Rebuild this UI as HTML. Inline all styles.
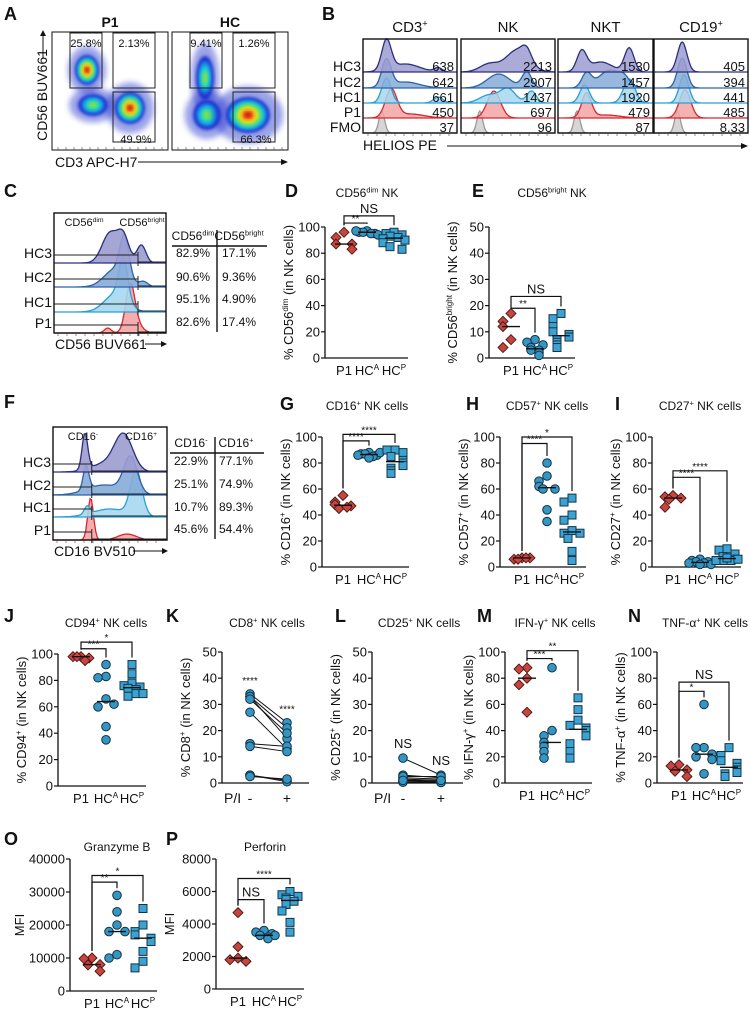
<!DOCTYPE html>
<html><head><meta charset="utf-8"><style>
body{margin:0;background:#fff}
svg{display:block;font-family:"Liberation Sans",Arial,sans-serif}
</style></head><body>
<svg id="fig" width="750" height="1012" viewBox="0 0 750 1012" xmlns="http://www.w3.org/2000/svg">
<defs>
<filter id="blur3"><feGaussianBlur stdDeviation="3"/></filter>
<filter id="blur2"><feGaussianBlur stdDeviation="1.6"/></filter>
</defs>
<g id="root"></g>
</svg>
<script>
// ---------- DATA ----------
const dotCats=["P1","HC^A","HC^P"];
const dP1=[96,92,87,87,83], dHCA=[97,96,95,96,95,97,94], dHCP=[96,95,94,93,92,91,90,88,85,83];
const eP1=[17,14,12,7,4], eHCA=[7,6,5,4,3,3,2,1], eHCP=[17,15,12,10,9,8,7,6,5,4];
const gP1=[55,50,48,47,45,46], gHCA=[88,87,86,87,85,86,88,84], gHCP=[90,90,88,85,82,80,78,76,74,72];
const hP1=[7,6,7,6,7], hHCA=[80,70,66,62,60,60,44,35], hHCP=[53,50,40,36,28,26,26,22,12,5];
const iP1=[55,54,53,52,46], iHCA=[6,5,4,4,3,3,2,2], iHCP=[14,13,10,8,6,5,5,5,6,7];
const jP1=[98,98,97,98,95], jHCA=[92,83,82,66,60,62,45,35], jHCP=[92,85,78,76,75,74,73,70,68,70];
const kPre=[34,33,33,32,27,15,14,3,3,2.5], kPost=[23,21,17,19,13,14,12,1,0.5,1.5];
const lPre=[9.5,3,2,1.5,1,0.5,0.5,0.3,2.5,1], lPost=[3,2,1.5,1,0.5,0.3,0.5,0.2,2.5,1];
const mP1=[88,87,80,75,54], mHCA=[88,40,36,31,28,24,19], mHCP=[65,56,48,44,42,40,36,30,24,19];
const nP1=[14,13,10,9,5], nHCA=[60,27,27,22,20,18,7], nHCP=[27,21,17,15,12,10,8,7,5];
const oP1=[10000,9800,8000,7900,6000], oHCA=[29000,24000,20000,18000,18000,11000,10000], oHCP=[25000,20000,18000,17000,16000,15000,12000,9000,7000];
const pP1=[4700,2600,1900,1800,1700], pHCA=[3600,3500,3400,3300,3200,3100,3300], pHCP=[6000,5800,5700,5600,5500,5400,5200,4800,4100,3500];
const helRows=["HC3","HC2","HC1","P1","FMO"];
const helTitles=["CD3^+","NK","NKT","CD19^+"];
const helMFI=[["638","642","661","450","37"],["2213","2907","1437","697","96"],["1530","1457","1920","479","87"],["405","394","441","485","8.33"]];
const cRows=["HC3","HC2","HC1","P1"];
const cDim=["82.9%","90.6%","95.1%","82.6%"], cBright=["17.1%","9.36%","4.90%","17.4%"];
const fNeg=["22.9%","25.1%","10.7%","45.6%"], fPos=["77.1%","74.9%","89.3%","54.4%"];
const aGatesP1=["25.8%","2.13%","49.9%"], aGatesHC=["9.41%","1.26%","66.3%"];

// ---------- helpers ----------
const NS="http://www.w3.org/2000/svg";
const root=document.getElementById('root');
function el(tag,attrs,parent){const e=document.createElementNS(NS,tag);for(const k in attrs)e.setAttribute(k,attrs[k]);(parent||root).appendChild(e);return e;}
function txt(x,y,s,size,anchor,parent,extra){const t=el('text',Object.assign({x:x,y:y,'font-size':size,'text-anchor':anchor||'start',fill:'#111'},extra||{}),parent);t.textContent=s;return t;}
function rich(x,y,s,size,anchor,parent,extra){
  const t=el('text',Object.assign({x:x,y:y,'font-size':size,'text-anchor':anchor||'start',fill:'#111'},extra||{}),parent);
  const parts=s.split(/(\^[^ ]+)/);
  let pend=0;
  parts.forEach(p=>{if(!p)return;const ts=el('tspan',{},t);
    if(p[0]==='^'){ts.setAttribute('font-size',size*0.62);ts.setAttribute('dy',(pend-size*0.38).toFixed(2));ts.textContent=p.slice(1);pend=size*0.38;}
    else{ts.setAttribute('font-size',size);if(pend){ts.setAttribute('dy',pend.toFixed(2));pend=0;}ts.textContent=p;}});
  return t;}
function letter(x,y,s){const t=txt(x,y,s,18,'start',root,{'font-weight':'bold'});}

// ---------- Panel A ----------
function jetBlob(g,cx,cy,rx,ry,hot){
  const cols=['#1f2fd0','#1e8fe6','#1fd6c9','#7de04a','#f2e21b','#f07f14','#d61a12'];
  const n=hot?7:4;
  for(let i=0;i<n;i++){const f=1-i/(n+0.3);el('ellipse',{cx:cx,cy:cy,rx:rx*f,ry:ry*f,fill:cols[i],filter:'url(#blur2)'},g);}
}
function scatter(x0,title,gates,blobs,name){
  const g=el('g',{});
  txt(x0+58,27,title,14,'middle',g,{'font-weight':'bold'});
  el('rect',{x:x0,y:32,width:116,height:118,fill:'#fff',stroke:'#111','stroke-width':1},g);
  blobs.forEach(b=>{el('ellipse',{cx:b[0],cy:b[1],rx:b[2]*1.6,ry:b[3]*1.6,fill:'#2233cc',opacity:0.45,filter:'url(#blur3)'},g);jetBlob(g,b[0],b[1],b[2],b[3],b[4]);});
  const gb=[[x0+18,33,32,55],[x0+61,33,42,55],[x0+61,92,42,50]];
  gb.forEach((r,i)=>{const rr=el('rect',{x:r[0],y:r[1],width:r[2],height:r[3],fill:'none',stroke:'#222','stroke-width':1},g);});
  txt(x0+34,47,gates[0],11,'middle',g);txt(x0+82,47,gates[1],11,'middle',g);txt(x0+84,143,gates[2],11,'middle',g);
  for(let i=0;i<14;i++){el('line',{x1:x0+6+i*8,y1:150,x2:x0+6+i*8,y2:147,stroke:'#444','stroke-width':0.6},g);}
}
scatter(52,"P1",aGatesP1,[[87,70,12,15,1],[93,105,15,11,0],[130,108,15,16,1]],'scatter-p1');
scatter(172,"HC",aGatesHC,[[205,78,9,22,0],[207,115,14,15,0],[248,115,22,18,1]],'scatter-hc');
(function(){const t=txt(0,0,"CD56 BUV661",14,'middle',root,{transform:'translate(47,95) rotate(-90)'});
el('line',{x1:43,y1:58,x2:43,y2:32,stroke:'#111'});el('path',{d:'M40,36 L43,30 L46,36 Z',fill:'#111'});
const t2=txt(55,167,"CD3 APC-H7",14,'start');
el('line',{x1:138,y1:162,x2:282,y2:162,stroke:'#111'});el('path',{d:'M281,159 L288,162 L281,165 Z',fill:'#111'});})();
letter(4,20,"A");

function histPath(x0,w,base,peaks){
  let d='M'+x0+','+base;
  for(let i=0;i<=80;i++){const u=i/80;let h=0;peaks.forEach(p=>{h+=p[2]*Math.exp(-Math.pow((u-p[0])/p[1],2)/2);});d+=' L'+(x0+u*w).toFixed(1)+','+(base-h).toFixed(1);}
  return d+' L'+(x0+w)+','+base+' Z';
}
const rowStroke=['#2d2d7e','#2b63a6','#2a9fd4','#d8262e','#999'];
const rowFill=['#9c9cd0','#86acd8','#a6d8f0','#f4a4a6','#cfcfcf'];

// ---------- Panel B ----------
letter(322,20,"B");
const helBoxes=[[363,94],[461,94],[558,95],[654,94]];
const helPeaks=[
 [[[0.25,0.05,30],[0.45,0.15,8],[0.8,0.04,4]],[[0.25,0.05,27],[0.45,0.15,6]],[[0.25,0.05,25],[0.8,0.05,6]],[[0.3,0.06,28],[0.5,0.15,4]],[[0.2,0.03,22]]],
 [[[0.3,0.1,8],[0.6,0.12,22],[0.7,0.05,10]],[[0.4,0.12,14],[0.7,0.05,16]],[[0.3,0.1,8],[0.5,0.08,14],[0.75,0.05,12]],[[0.35,0.07,27]],[[0.2,0.03,22]]],
 [[[0.25,0.05,20],[0.45,0.12,10],[0.75,0.05,24]],[[0.3,0.05,14],[0.55,0.12,18],[0.7,0.05,6]],[[0.28,0.05,18],[0.75,0.06,24]],[[0.3,0.05,24],[0.5,0.15,3]],[[0.2,0.03,22]]],
 [[[0.3,0.05,30]],[[0.3,0.05,30]],[[0.32,0.05,28]],[[0.33,0.06,28]],[[0.25,0.03,22]]]];
const helBase=[72,88,103,118,133];
helBoxes.forEach((b,pi)=>{
  const g=el('g',{});
  el('rect',{x:b[0],y:39,width:b[1],height:94,fill:'#fff'},g);
  for(let r=4;r>=0;r--){
    el('path',{d:histPath(b[0],b[1],helBase[r],helPeaks[pi][r]),fill:rowFill[r],stroke:rowStroke[r],'stroke-width':1.3,'fill-opacity':0.85},g);
    el('line',{x1:b[0],y1:helBase[r],x2:b[0]+b[1],y2:helBase[r],stroke:rowStroke[r],'stroke-width':1.1},g);
  }
  el('rect',{x:b[0],y:39,width:b[1],height:94,fill:'none',stroke:'#111','stroke-width':1.4},g);
  rich(b[0]+b[1]/2,32,helTitles[pi],15,'middle',g);
  helMFI[pi].forEach((v,r)=>txt(b[0]+b[1]-3,helBase[r]-1,v,13,'end',g));
  for(let i=0;i<10;i++)el('line',{x1:b[0]+5+i*9,y1:133,x2:b[0]+5+i*9,y2:136,stroke:'#444','stroke-width':0.6},g);
});
helRows.forEach((r,i)=>{const t=txt(361,helBase[i]-1,r,14,'end');});
(function(){const t=txt(363,150,"HELIOS PE",14,'start');
el('line',{x1:447,y1:146,x2:742,y2:146,stroke:'#111'});el('path',{d:'M741,143 L748,146 L741,149 Z',fill:'#111'});})();

// ---------- Panel C & F ----------
function histTable(o){
  const g=el('g',{});
  el('rect',{x:o.x0,y:o.y0,width:o.w,height:o.h,fill:'#fff'},g);
  for(let r=o.base.length-1;r>=0;r--){
    el('path',{d:histPath(o.x0,o.w,o.base[r],o.peaks[r]),fill:rowFill[r],stroke:rowStroke[r],'stroke-width':1.3,'fill-opacity':0.9},g);
    el('line',{x1:o.x0,y1:o.base[r],x2:o.x0+o.w,y2:o.base[r],stroke:rowStroke[r],'stroke-width':1.1},g);
    const gy=o.base[r]-8, gx=o.x0+o.w*o.gate;
    el('line',{x1:o.x0,y1:gy,x2:gx,y2:gy,stroke:'#222','stroke-width':1},g);
    el('line',{x1:gx,y1:gy-3,x2:gx,y2:gy+11,stroke:'#222','stroke-width':1},g);
    el('line',{x1:gx,y1:gy+7,x2:o.x0+o.w,y2:gy+7,stroke:'#222','stroke-width':1},g);
    txt(o.x0-2,o.base[r]-5,cRows[r],14,'end',g);
  }
  el('rect',{x:o.x0,y:o.y0,width:o.w,height:o.h,fill:'none',stroke:'#111','stroke-width':1.4},g);
  rich(o.x0+30,o.y0+13,o.lab1,11,'middle',g);rich(o.x0+88,o.y0+13,o.lab2,11,'middle',g);
  for(let i=0;i<12;i++)el('line',{x1:o.x0+4+i*9,y1:o.y0+o.h,x2:o.x0+4+i*9,y2:o.y0+o.h+3,stroke:'#444','stroke-width':0.6},g);
  txt(o.x0+1,o.y0+o.h+16,o.xlab,14,'start',g);
  el('line',{x1:o.x0+o.arrowStart,y1:o.y0+o.h+11,x2:o.x0+o.w-4,y2:o.y0+o.h+11,stroke:'#111'},g);
  el('path',{d:`M${o.x0+o.w-5},${o.y0+o.h+8} L${o.x0+o.w+1},${o.y0+o.h+11} L${o.x0+o.w-5},${o.y0+o.h+14} Z`,fill:'#111'},g);
  const tg=el('g',{},g);
  rich(o.tc1,o.th,o.lab1,12,'middle',tg);rich(o.tc2,o.th,o.lab2,12,'middle',tg);
  el('line',{x1:o.tc1-21,y1:o.th+6,x2:o.tc2+28,y2:o.th+6,stroke:'#111','stroke-width':1.4},tg);
  el('line',{x1:o.tv,y1:o.th-10,x2:o.tv,y2:o.trow[3]+6,stroke:'#111','stroke-width':1.4},tg);
  o.trow.forEach((y,i)=>{txt(o.tc1,y,o.c1[i],12,'middle',tg);txt(o.tc2,y,o.c2[i],12,'middle',tg);});
}
letter(4,197,"C");
histTable({name:'c-cd56-histogram',x0:54,y0:213,w:112,h:120,base:[263,287,312,333],gate:0.75,
 peaks:[[[0.5,0.07,30],[0.62,0.05,25],[0.78,0.04,18]],[[0.55,0.1,18],[0.63,0.04,40],[0.8,0.04,5]],[[0.55,0.1,18],[0.62,0.04,40]],[[0.68,0.04,42],[0.48,0.03,5],[0.72,0.06,10]]],
 lab1:"CD56^dim",lab2:"CD56^bright",xlab:"CD56 BUV661",arrowStart:91,tc1:193,tc2:239,th:240,tv:217,trow:[257,281,303,326],c1:cDim,c2:cBright});
letter(4,408,"F");
histTable({name:'f-cd16-histogram',x0:53,y0:427,w:114,h:113,base:[472,495,517,540],gate:0.34,
 peaks:[[[0.28,0.025,36],[0.62,0.08,36],[0.45,0.12,8]],[[0.29,0.025,24],[0.68,0.06,36],[0.45,0.15,10]],[[0.3,0.025,8],[0.73,0.05,45],[0.5,0.15,8]],[[0.33,0.025,42],[0.65,0.08,6]]],
 lab1:"CD16^-",lab2:"CD16^+",xlab:"CD16 BV510",arrowStart:80,tc1:191,tc2:236,th:447,tv:215,trow:[465,488,511,533],c1:fNeg,c2:fPos});

// ---------- dot panels ----------
const P1C='#c8453f', HCC='#3596c4', HCP='#3aa3d4';
function marker(g,shape,x,y,col){
  let m;
  if(shape==='d')m=el('path',{d:`M${x},${y-5} L${x+5},${y} L${x},${y+5} L${x-5},${y} Z`,fill:col,stroke:'#4a1512','stroke-width':0.9},g);
  else if(shape==='s')m=el('rect',{x:x-4,y:y-4,width:8,height:8,fill:col,stroke:'#143346','stroke-width':1},g);
  else m=el('circle',{cx:x,cy:y,r:4.3,fill:col,stroke:'#143346','stroke-width':1},g);
  
  
}
function yAxis(g,ax,yb,yt,ticks,max){
  el('line',{x1:ax,y1:yb,x2:ax,y2:yt,stroke:'#111','stroke-width':1.3},g);
  ticks.forEach(t=>{const y=yb-(yb-yt)*t/max;el('line',{x1:ax-4,y1:y,x2:ax,y2:y,stroke:'#111','stroke-width':1.2},g);txt(ax-5,y+4.5,String(t),13,'end',g);});
}
function dotPanel(o){
  const g=el('g',{});
  const Y=v=>o.yb-(o.yb-o.yt)*v/o.max;
  yAxis(g,o.ax,o.yb,o.yt,o.ticks,o.max);
  el('line',{x1:o.ax,y1:o.yb,x2:o.cats[o.cats.length-1]+14,y2:o.yb,stroke:'#111','stroke-width':1.3},g);
  rich(o.tx,o.ty,o.title,12,'middle',g);
  const yl=rich(0,0,o.ylab,13,'middle',g,{transform:`translate(${o.ax-(o.ylOff||32)},${(o.yb+o.yt)/2}) rotate(-90)`});
  
  const shapes=['d','c','s'], cols=[P1C,HCC,HCP];
  const pattern=[0,-8,8,-4,4,-11,11,0];
  o.groups.forEach((arr,gi)=>{
    const placed=[];
    arr.forEach(v=>{const y=Y(v);const n=placed.filter(p=>Math.abs(p-y)<8).length;placed.push(y);marker(g,shapes[gi],o.cats[gi]+pattern[n%pattern.length],y,cols[gi]);});
    const s=[...arr].sort((a,b)=>a-b);const med=s.length%2?s[(s.length-1)/2]:(s[s.length/2-1]+s[s.length/2])/2;
    el('line',{x1:o.cats[gi]-9,y1:Y(med),x2:o.cats[gi]+9,y2:Y(med),stroke:'#111','stroke-width':1.4},g);
    rich(o.cats[gi],o.yb+17,dotCats[gi],13,'middle',g);
  });
  o.sig.forEach(s=>{const y=Y(s[2]);const x1=o.cats[s[0]],x2=o.cats[s[1]];
    const top1=Y(Math.max(...o.groups[s[0]]))-7, top2=Y(Math.max(...o.groups[s[1]]))-7;
    el('path',{d:`M${x1},${top1} L${x1},${y} L${x2},${y} L${x2},${top2}`,fill:'none',stroke:'#111','stroke-width':1.2},g);
    txt((x1+x2)/2,y-(s[3]==='NS'?3:1),s[3],s[3]==='NS'?13:10,'middle',g);});
}
function pairPanel(o){
  const g=el('g',{});
  const Y=v=>o.yb-(o.yb-o.yt)*v/o.max;
  yAxis(g,o.ax,o.yb,o.yt,o.ticks,o.max);
  el('line',{x1:o.ax,y1:o.yb,x2:o.cats[1]+22,y2:o.yb,stroke:'#111','stroke-width':1.3},g);
  rich(o.tx,o.ty,o.title,12,'middle',g);
  const yl=rich(0,0,o.ylab,13,'middle',g,{transform:`translate(${o.ax-32},${(o.yb+o.yt)/2}) rotate(-90)`});
  
  o.pre.forEach((v,i)=>{const ln=el('line',{x1:o.cats[0],y1:Y(v),x2:o.cats[1],y2:Y(o.post[i]),stroke:'#111','stroke-width':1},g);});
  o.pre.forEach((v,i)=>{marker(g,'c',o.cats[0],Y(v),HCC);marker(g,'c',o.cats[1],Y(o.post[i]),HCC);});
  txt(o.ax+2,o.yb+20,"P/I",14,'start',g);txt(o.cats[0],o.yb+20,"-",14,'middle',g);txt(o.cats[1],o.yb+20,"+",14,'middle',g);
  txt(o.cats[0],Y(Math.max(...o.pre))-10,o.sig[0],o.sig[0]==='NS'?13:10,'middle',g);
  txt(o.cats[1],Y(Math.max(...o.post))-10,o.sig[1],o.sig[1]==='NS'?13:10,'middle',g);
}

letter(285,197,"D");
dotPanel({name:'d-cd56dim-nk',ax:325,yb:358,yt:227,max:100,ticks:[0,20,40,60,80,100],cats:[344,367,394],groups:[dP1,dHCA,dHCP],
 title:"CD56^dim NK",tx:367,ty:197,ylab:"% CD56^dim (in NK cells)",sig:[[0,1,103,'**'],[0,2,108.5,'NS']]});
letter(472,197,"E");
dotPanel({name:'e-cd56bright-nk',ax:489,yb:358,yt:227,max:50,ticks:[0,10,20,30,40,50],cats:[511,535,561],groups:[eP1,eHCA,eHCP],
 title:"CD56^bright NK",tx:552,ty:197,ylab:"% CD56^bright (in NK cells)",sig:[[0,1,19,'**'],[0,2,23.5,'NS']]});

letter(280,410,"G");
dotPanel({name:'g-cd16-nk',ax:322,yb:567,yt:437,max:100,ticks:[0,20,40,60,80,100],cats:[343,369,395],groups:[gP1,gHCA,gHCP],
 title:"CD16^+ NK cells",tx:367,ty:410,ylab:"% CD16^+ (in NK cells)",sig:[[0,1,97,'****'],[0,2,102,'****']]});
letter(466,410,"H");
dotPanel({name:'h-cd57-nk',ax:500,yb:567,yt:437,max:100,ticks:[0,20,40,60,80,100],cats:[522,547,572],groups:[hP1,hHCA,hHCP],
 title:"CD57^+ NK cells",tx:547,ty:410,ylab:"% CD57^+ (in NK cells)",sig:[[0,1,95,'****'],[0,2,100,'*']]});
letter(615,410,"I");
dotPanel({name:'i-cd27-nk',ax:652,yb:567,yt:437,max:100,ticks:[0,20,40,60,80,100],cats:[673,700,727],groups:[iP1,iHCA,iHCP],
 title:"CD27^+ NK cells",tx:700,ty:410,ylab:"% CD27^+ (in NK cells)",sig:[[0,1,69,'****'],[0,2,74,'****']]});

letter(4,622,"J");
dotPanel({name:'j-cd94-nk',ax:58,yb:786,yt:654,max:100,ticks:[0,20,40,60,80,100],cats:[81,106,132],groups:[jP1,jHCA,jHCP],
 title:"CD94^+ NK cells",tx:106,ty:627,ylab:"% CD94^+ (in NK cells)",sig:[[0,1,104,'***'],[0,2,109,'*']]});
letter(166,622,"K");
pairPanel({name:'k-cd8-nk',ax:222,yb:783,yt:652,max:50,ticks:[0,10,20,30,40,50],cats:[250,287],pre:kPre,post:kPost,
 title:"CD8^+ NK cells",tx:267,ty:627,ylab:"% CD8^+ (in NK cells)",sig:['****','****']});
letter(335,622,"L");
pairPanel({name:'l-cd25-nk',ax:372,yb:783,yt:652,max:50,ticks:[0,10,20,30,40,50],cats:[403,441],pre:lPre,post:lPost,
 title:"CD25^+ NK cells",tx:419,ty:627,ylab:"% CD25^+ (in NK cells)",sig:['NS','NS']});
letter(477,622,"M");
dotPanel({name:'m-ifng-nk',ax:505,yb:783,yt:652,max:100,ticks:[0,20,40,60,80,100],cats:[527,552,578],groups:[mP1,mHCA,mHCP],
 title:"IFN-γ^+ NK cells",tx:555,ty:627,ylab:"% IFN-γ^+ (in NK cells)",sig:[[0,1,95,'***'],[0,2,101,'**']]});
letter(628,622,"N");
dotPanel({name:'n-tnfa-nk',ax:657,yb:783,yt:652,max:100,ticks:[0,20,40,60,80,100],cats:[679,704,729],groups:[nP1,nHCA,nHCP],
 title:"TNF-α^+ NK cells",tx:705,ty:627,ylab:"% TNF-α^+ (in NK cells)",sig:[[0,1,70,'*'],[0,2,77,'NS']]});

letter(4,845,"O");
dotPanel({name:'o-granzyme-b',ax:70,yb:991,yt:859,max:40000,ticks:[0,10000,20000,30000,40000],cats:[92,117,143],groups:[oP1,oHCA,oHCP],
 title:"Granzyme B",tx:117,ty:851,ylab:"MFI",ylOff:46,sig:[[0,1,33000,'**'],[0,2,35000,'*']]});
letter(166,845,"P");
dotPanel({name:'p-perforin',ax:216,yb:989,yt:859,max:8000,ticks:[0,2000,4000,6000,8000],cats:[238,264,290],groups:[pP1,pHCA,pHCP],
 title:"Perforin",tx:265,ty:851,ylab:"MFI",ylOff:42,sig:[[0,1,5500,'NS'],[0,2,6800,'****']]});
</script>
</body></html>
